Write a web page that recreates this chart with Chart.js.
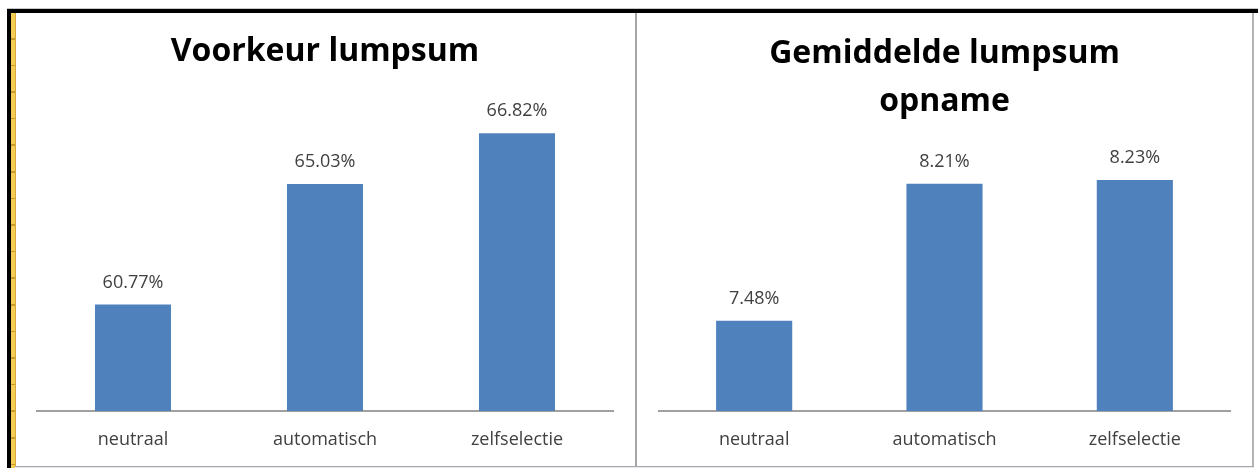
<!DOCTYPE html>
<html>
<head>
<meta charset="utf-8">
<script src="https://cdn.jsdelivr.net/npm/chart.js@4/dist/chart.umd.min.js"></script>
<style>
  html, body { margin: 0; padding: 0; background: #fff; }
  #wrap { position: relative; width: 1258px; height: 468px; overflow: hidden; background: #fff; }
  .box { position: absolute; }
  #c1 { position: absolute; left: 15px; top: 12px; }
  #c2 { position: absolute; left: 637px; top: 12px; }
</style>
</head>
<body>
<div id="wrap">
  <!-- frame around the two charts -->
  <div class="box" style="left:7px;top:8px;width:1251px;height:1px;background:#c8c8c8"></div>
  <div class="box" style="left:7px;top:9px;width:1251px;height:4px;background:#000"></div>
  <div class="box" style="left:7px;top:9px;width:4px;height:459px;background:#000"></div>
  <div class="box" style="left:11px;top:13px;width:4px;height:455px;background:repeating-linear-gradient(to bottom,#f6cd55 0,#f6cd55 25px,#c99a2e 25px,#c99a2e 26.6px);border-right:1px solid #d9a93a"></div>
  <div class="box" style="left:635px;top:13px;width:2px;height:453px;background:#a6a6a6"></div>
  <div class="box" style="left:1252px;top:13px;width:2px;height:453px;background:#b4b4b4"></div>
  <div class="box" style="left:15px;top:466px;width:1239px;height:1px;background:#a8a8a8"></div>
  <div class="box" style="left:15px;top:467px;width:1239px;height:1px;background:#e3e8ee"></div>
  <canvas id="c1" width="620" height="454"></canvas>
  <canvas id="c2" width="615" height="454"></canvas>
</div>
<script>
const categories = ['neutraal', 'automatisch', 'zelfselectie'];
const voorkeurValues = [60.77, 65.03, 66.82];
const opnameValues = [7.48, 8.21, 8.23];
const voorkeurTitle = 'Voorkeur lumpsum';
const opnameTitle = ['Gemiddelde lumpsum', 'opname'];

const barColor = '#4f81bd';
const textColor = '#404040';

// writes the value above each bar
const valueLabels = {
    id: 'valueLabels',
    afterDatasetsDraw(chart) {
        const ctx = chart.ctx;
        ctx.save();
        ctx.font = '18px "Open Sans"';
        ctx.fillStyle = textColor;
        ctx.textAlign = 'center';
        ctx.textBaseline = 'middle';
        chart.getDatasetMeta(0).data.forEach(function (bar, i) {
            const v = chart.data.datasets[0].data[i];
            ctx.fillText(v.toFixed(2) + '%', bar.x, bar.y - 22);
        });
        ctx.restore();
    }
};

function barConfig(values, title, yMin, yMax, barPct, titlePad, lineHeight) {
    return {
        type: 'bar',
        data: {
            labels: categories,
            datasets: [{
                data: values,
                backgroundColor: barColor,
                barPercentage: barPct,
                categoryPercentage: 1
            }]
        },
        options: {
            responsive: false,
            animation: false,
            layout: { padding: { left: 22, right: 22, top: 0, bottom: 0 } },
            plugins: {
                legend: { display: false },
                tooltip: { enabled: false },
                title: {
                    display: true,
                    text: title,
                    color: '#000',
                    font: { family: 'Open Sans', size: 32, weight: 'bold', lineHeight: lineHeight },
                    padding: titlePad
                }
            },
            scales: {
                x: {
                    grid: { display: false, drawTicks: false },
                    border: { display: true, color: '#a0a0a0', width: 2 },
                    ticks: { color: textColor, padding: 18, font: { family: 'Open Sans', size: 18 } },
                    afterFit: function (axis) { axis.height = 55; }
                },
                y: {
                    display: false,
                    min: yMin,
                    max: yMax
                }
            }
        },
        plugins: [valueLabels]
    };
}

new Chart(document.getElementById('c1'),
    barConfig(voorkeurValues, voorkeurTitle, 57, 68, 0.396, { top: 22, bottom: 30 }, '36px'));
new Chart(document.getElementById('c2'),
    barConfig(opnameValues, opnameTitle, 7, 8.4, 0.4, { top: 18, bottom: 22 }, '48px'));
</script>
</body>
</html>
